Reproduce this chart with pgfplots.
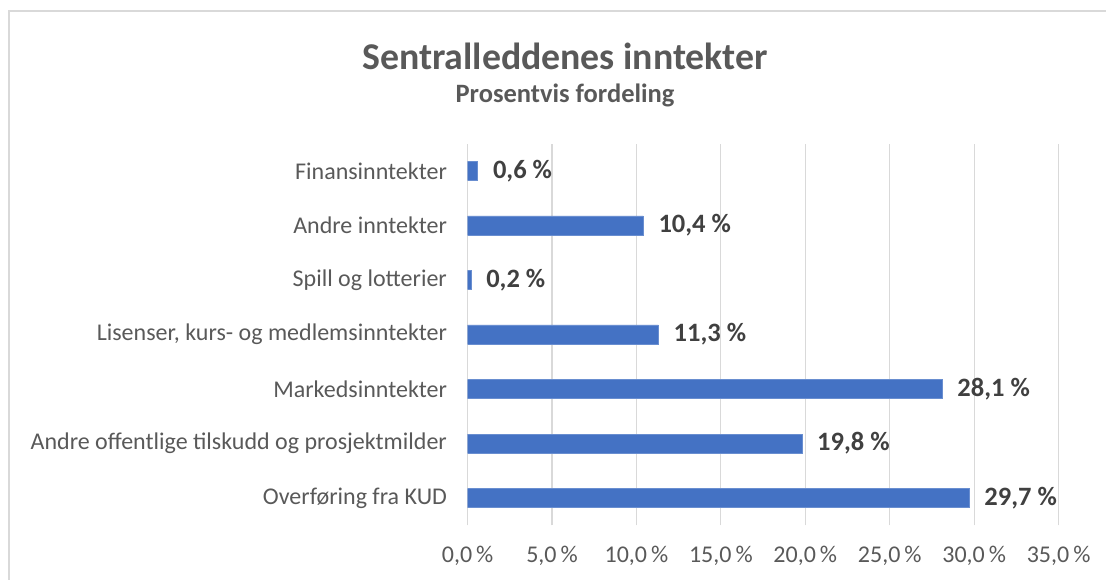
\documentclass[border=0pt]{standalone}
\usepackage{fontspec}
\setmainfont{Carlito}
\usepackage{pgfplots}
\pgfplotsset{compat=1.18}

\definecolor{barblue}{HTML}{4472C4}
\definecolor{txtgray}{HTML}{595959}
\definecolor{lblgray}{HTML}{404040}
\definecolor{gridgray}{HTML}{D9D9D9}

\begin{document}
\begin{tikzpicture}[x=1pt,y=1pt]
% chart frame (cut by the page on the right and bottom)
\draw[gridgray, line width=1.5pt] (9,-40) -- (9,568) -- (1130,568);
\node[anchor=base, font=\fontsize{37.8}{40}\selectfont\bfseries, text=txtgray] at (565,509) {Sentralleddenes inntekter};
\node[anchor=base, font=\fontsize{26.5}{28}\selectfont\bfseries, text=txtgray] at (565,476) {Prosentvis fordeling};

\begin{axis}[
    at={(467.6pt,53.75pt)}, anchor=south west,
    scale only axis,
    width=591pt, height=381.5pt,
    xbar, bar width=19pt,
    xmin=0, xmax=35,
    ymin=-0.5, ymax=6.5,
    xtick={0,5,...,35},
    ytick={0,1,2,3,4,5,6},
    yticklabels={Overføring fra KUD,
        Andre offentlige tilskudd og prosjektmilder,
        Markedsinntekter,
        {Lisenser, kurs- og medlemsinntekter},
        Spill og lotterier,
        Andre inntekter,
        Finansinntekter},
    axis line style={draw=none},
    major tick length=0pt,
    xmajorgrids, major grid style={gridgray, line width=1.2pt},
    /pgf/number format/assume math mode=true,
    xticklabel={\pgfmathprintnumber[fixed,fixed zerofill,precision=1,use comma]{\tick}\,\%},
    xticklabel style={font=\fontsize{24}{26}\selectfont, text=txtgray, inner sep=0pt, anchor=north, yshift=-21pt},
    yticklabel style={font=\fontsize{24}{26}\selectfont, text=txtgray, inner sep=0pt, anchor=east, xshift=-20.5pt},
    nodes near coords={\pgfmathprintnumber[fixed,fixed zerofill,precision=1,use comma]{\pgfplotspointmeta}~\%},
    every node near coord/.append style={font=\fontsize{26.5}{28}\selectfont\bfseries, text=lblgray, anchor=west, inner sep=0pt, xshift=15pt},
]
\addplot[fill=barblue, draw=barblue!80!white, line width=0.6pt] coordinates {
    (29.7,0) (19.8,1) (28.1,2) (11.3,3) (0.2,4) (10.4,5) (0.6,6)
};
\end{axis}
\pgfresetboundingbox
\useasboundingbox (0,0) rectangle (1106,579);
\end{tikzpicture}
\end{document}
